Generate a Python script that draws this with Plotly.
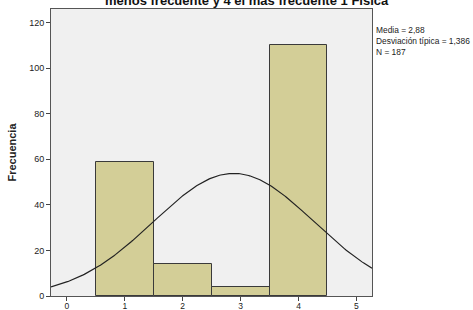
import numpy as np
import plotly.graph_objects as go

categories = [1, 2, 3, 4]
frequencies = [59, 14, 4, 110]
mean_val = 2.88
std_val = 1.386
n_val = 187
x_ticks = [0, 1, 2, 3, 4, 5]
y_ticks = [0, 20, 40, 60, 80, 100, 120]
title_text = "menos frecuente y 4 el más frecuente 1 Física"
stats_text = "Media = 2,88<br>Desviación típica = 1,386<br>N = 187"

x_range = [-0.276, 5.27]
y_range = [0, 126]

xs = np.linspace(x_range[0], x_range[1], 300)
ys = n_val * 1.0 / (std_val * np.sqrt(2 * np.pi)) * np.exp(-0.5 * ((xs - mean_val) / std_val) ** 2)

font = "Liberation Sans, Arial, sans-serif"

fig = go.Figure()
fig.add_trace(go.Bar(
    x=categories, y=frequencies, width=1,
    marker=dict(color="#D3CE97", line=dict(color="#3a3a3a", width=1)),
    hoverinfo="skip",
))
fig.add_trace(go.Scatter(
    x=xs, y=ys, mode="lines",
    line=dict(color="#222222", width=1.2),
    hoverinfo="skip",
))

fig.update_layout(
    width=473, height=310,
    margin=dict(l=51, r=101, t=9, b=14, autoexpand=False),
    paper_bgcolor="white",
    plot_bgcolor="#F0F0F0",
    showlegend=False,
    bargap=0,
    font=dict(family=font, size=9, color="#222222"),
)
fig.update_xaxes(
    range=x_range, tickvals=x_ticks, ticks="outside", ticklen=4, tickcolor="#444",
    showline=True, linecolor="#555", linewidth=1, mirror=True,
    showgrid=False, zeroline=False, tickfont=dict(size=8.5), automargin=False,
    ticklabelstandoff=-2,
)
fig.update_yaxes(
    range=y_range, tickvals=y_ticks, ticks="outside", ticklen=4, tickcolor="#444",
    showline=True, linecolor="#555", linewidth=1, mirror=True,
    showgrid=False, zeroline=False, tickfont=dict(size=9), automargin=False,
    title=dict(text="<b>Frecuencia</b>", font=dict(size=11), standoff=10),
)
fig.add_annotation(
    text="<b>" + title_text + "</b>", xref="paper", yref="paper",
    x=0.61, y=1, yanchor="middle", xanchor="center", yshift=9,
    showarrow=False, font=dict(size=13, family=font, color="#111"),
)
fig.add_annotation(
    text=stats_text, xref="paper", yref="paper",
    x=1, xanchor="left", xshift=2, y=0.95, yanchor="top",
    align="left", showarrow=False, font=dict(size=8.4, family=font, color="#222"),
)

fig.write_html("out.html", config={"displayModeBar": False},
               post_script="document.body.style.margin='0';document.body.style.padding='0';")
